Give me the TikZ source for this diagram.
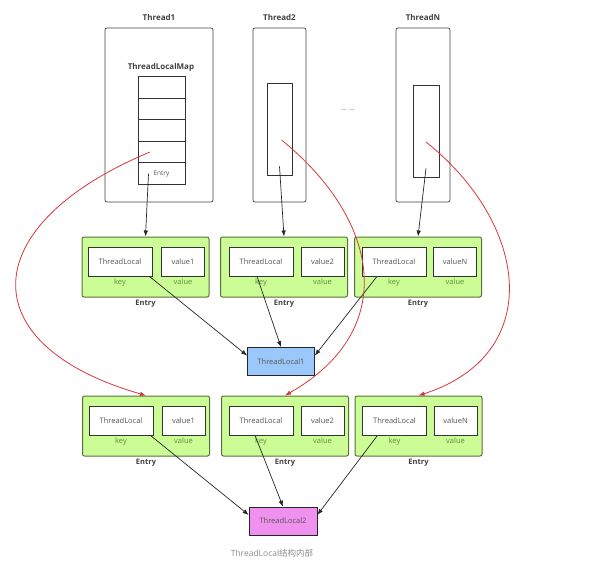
\documentclass[tikz,border=0pt]{standalone}
\usepackage{fontspec}
\setmainfont{Open Sans}
\newfontfamily\cjkfont{Noto Sans CJK SC}
\usetikzlibrary{arrows.meta}
\definecolor{entryfill}{RGB}{204,252,150}
\definecolor{entryline}{RGB}{85,115,55}
\definecolor{keytext}{RGB}{95,145,55}
\definecolor{tlblue}{RGB}{155,200,250}
\definecolor{tlpink}{RGB}{240,145,240}
\definecolor{redline}{RGB}{215,55,60}
\definecolor{textgray}{RGB}{85,85,85}
\tikzset{thread/.style = {rectangle, rounded corners=2pt, draw=black!75, line width=0.7pt,
                          label={[label distance=3pt, font=\fontsize{8}{9}\selectfont\bfseries, text=black!75]above:#1}}}

\begin{document}
\begin{tikzpicture}[x=1pt, y=-1pt, node distance=21.6pt, line width=0.7pt,
  cell/.style = {draw=black!80, minimum width=47pt, minimum height=21.6pt, inner sep=0pt},
  entry/.style = {draw=entryline, fill=entryfill, rounded corners=2pt, line width=1pt,
                  minimum width=127pt, minimum height=60pt,
                  label={[label distance=-1pt, font=\fontsize{7.5}{9}\selectfont\bfseries, text=black!75]below:Entry}},
  inbox/.style = {draw=black!80, fill=white, line width=0.8pt, minimum height=29pt,
                  inner sep=0pt, font=\fontsize{7.5}{8}\selectfont, text=textgray,
                  label={[label distance=-1pt, font=\fontsize{7.5}{8}\selectfont, text=keytext]below:#1}},
  keybox/.style = {inbox=key, minimum width=64pt},
  valbox/.style = {inbox=value, minimum width=43pt},
  tlbox/.style = {draw=black!85, minimum width=67pt, minimum height=28pt, inner sep=0pt,
                  font=\fontsize{7.5}{8}\selectfont, text=textgray},
  arr/.style = {-{Latex[length=6pt, width=4.5pt]}, black!85, line width=0.7pt},
  redarr/.style = {-{Latex[length=6pt, width=4.5pt]}, redline, line width=0.8pt}]
\useasboundingbox (0,0) rectangle (604,564);

\node[thread=Thread1, minimum width=108pt, minimum height=174pt] (t1) at (159,115) {};
\node[font=\fontsize{8}{9}\selectfont\bfseries, text=black!75] (maplbl) at (161,67) {ThreadLocalMap};
\node[cell] (c1) at (161.5,87.2) {};
\node[cell] (c2) [below of=c1] {};
\node[cell] (c3) [below of=c2] {};
\node[cell] (c4) [below of=c3] {};
\node[cell, font=\fontsize{6.5}{7}\selectfont, text=textgray] (c5) [below of=c4] {Entry};

\node[thread=Thread2, minimum width=53pt, minimum height=174pt] (t2) at (279.5,115) {};
\node[draw=black!80, minimum width=25pt, minimum height=92pt] (t2in) at (279.5,129) {};

\node[font=\fontsize{7}{8}\selectfont, text=black!60] (dots) at (348,110) {... ...};

\node[thread=ThreadN, minimum width=54pt, minimum height=174pt] (tn) at (423,115) {};
\node[draw=black!80, minimum width=26pt, minimum height=92pt] (tnin) at (426,131) {};

\node[entry] (ea1) at (145.5,267) {};
\node[keybox] (ka1) at (120,261.5) {ThreadLocal};
\node[valbox] (va1) at (183,261.5) {value1};
\node[entry] (ea2) at (284,267) {};
\node[keybox] (ka2) at (261,261.5) {ThreadLocal};
\node[valbox] (va2) at (322.5,261.5) {value2};
\node[entry] (ean) at (418,267) {};
\node[keybox] (kan) at (394,261.5) {ThreadLocal};
\node[valbox] (van) at (455,261.5) {valueN};

\node[tlbox, fill=tlblue] (tl1) at (281,361.5) {ThreadLocal1};

\node[entry] (eb1) at (146,426) {};
\node[keybox] (kb1) at (121,420.5) {ThreadLocal};
\node[valbox] (vb1) at (183.5,420.5) {value1};
\node[entry] (eb2) at (285,426) {};
\node[keybox] (kb2) at (261,420.5) {ThreadLocal};
\node[valbox] (vb2) at (322.5,420.5) {value2};
\node[entry] (ebn) at (418.5,426) {};
\node[keybox] (kbn) at (394.5,420.5) {ThreadLocal};
\node[valbox] (vbn) at (455.5,420.5) {valueN};

\node[tlbox, fill=tlpink, minimum width=68pt] (tl2) at (283,521) {ThreadLocal2};

\node[font=\fontsize{8.5}{10}\selectfont, text=black!45] (caption) at (272,553) {ThreadLocal{\cjkfont 结构内部}};

\draw[arr] ([xshift=-13pt]c5.center) -- (ea1.north);
\draw[arr] ([yshift=9pt]t2in.south) -- (ea2.north);
\draw[arr] ([yshift=9pt]tnin.south) -- (ean.north);
\draw[arr] ([xshift=-3pt]ka1.south east) -- (tl1.170);
\draw[arr] ([xshift=-4pt]ka2.south) -- (tl1.north);
\draw[arr] ([xshift=-17pt]kan.south) -- (tl1.10);
\draw[arr] ([xshift=-3pt]kb1.south east) -- (tl2.170);
\draw[arr] ([xshift=-6pt]kb2.south) -- (tl2.north);
\draw[arr] ([xshift=-17pt]kbn.south) -- (tl2.10);

\draw[redarr] ([xshift=-11.5pt]c4.center) .. controls (-25,225) and (-30,345) .. (eb1.north);
\draw[redarr] ([xshift=2pt, yshift=-11pt]t2in.center) .. controls (380,220) and (400,330) .. (eb2.north);
\draw[redarr] ([yshift=-11pt]tnin.center) .. controls (530,225) and (545,355) .. (ebn.north);
\end{tikzpicture}
\end{document}
